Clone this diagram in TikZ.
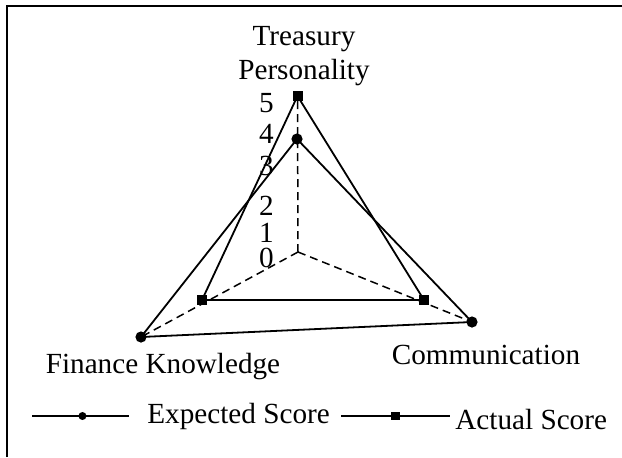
\documentclass[tikz,border=0pt]{standalone}
\usepackage{fontspec}
\setmainfont{Liberation Serif}
\usepackage{tikz}
\usetikzlibrary{positioning,calc}

\tikzset{
  axisline/.style={dash pattern=on 4pt off 2.5pt, line width=0.75pt},
  scoreline/.style={line width=0.9pt},
  dotmark/.style={circle, fill=black, inner sep=0pt, minimum size=5.6pt},
  sqmark/.style={rectangle, fill=black, inner sep=0pt, minimum size=5pt},
  lbl/.style={font=\fontsize{14.6}{17}\selectfont, inner sep=0pt},
}

\begin{document}
\begin{tikzpicture}[x=0.5pt,y=-0.5pt]
\useasboundingbox (0,0) rectangle (622,457);
% frame, only top and left side show
\draw [line width=1pt] (7,457) -- (7,6) -- (622,6);
% axes
\coordinate (o) at (298,252);
\coordinate (a1) at (297.5,96);
\coordinate (e1) at (297,139);
\coordinate (e2) at (141,337);
\coordinate (e3) at (472,322);
\coordinate (a2) at (202,300);
\coordinate (a3) at (424,300);
\draw [axisline] (o) -- (a1);
\draw [axisline] (o) -- (e2);
\draw [axisline] (o) -- (e3);
% scale
\foreach \v/\y in {5/112,4/143,3/175,2/215,1/242,0/267}
  \node [lbl, anchor=base east] (tick\v) at (274,\y) {\v};
% expected and actual
\draw [scoreline] (e1) -- (e2) -- (e3) -- cycle;
\draw [scoreline] (a1) -- (a2) -- (a3) -- cycle;
\foreach \p in {e1,e2,e3}
  \node [dotmark] (m\p) at (\p) {};
\foreach \p in {a1,a2,a3}
  \node [sqmark] (m\p) at (\p) {};
% axis names
\node [lbl, anchor=base] (tp1) at (304,45) {Treasury};
\node [lbl, anchor=base] (tp2) at (304,79) {Personality};
\node [lbl, anchor=base] (fk) at (163,373) {Finance Knowledge};
\node [lbl, anchor=base] (cm) at (486,364) {Communication};
% legend
\coordinate (la) at (32,416);
\coordinate (lb) at (129,416);
\coordinate (lc) at (341,416);
\coordinate (ld) at (450,416);
\draw [scoreline] (la) -- (lb);
\draw [scoreline] (lc) -- (ld);
\node [dotmark, minimum size=4pt] (ldot) at ($(la)!0.52!(lb)$) {};
\node [sqmark, minimum size=4.4pt] (lsq) at ($(lc)!0.5!(ld)$) {};
\node [lbl, anchor=base west] (lexp) at (147,423) {Expected Score};
\node [lbl, anchor=base west] (lact) at (455,429) {Actual Score};
\end{tikzpicture}
\end{document}
